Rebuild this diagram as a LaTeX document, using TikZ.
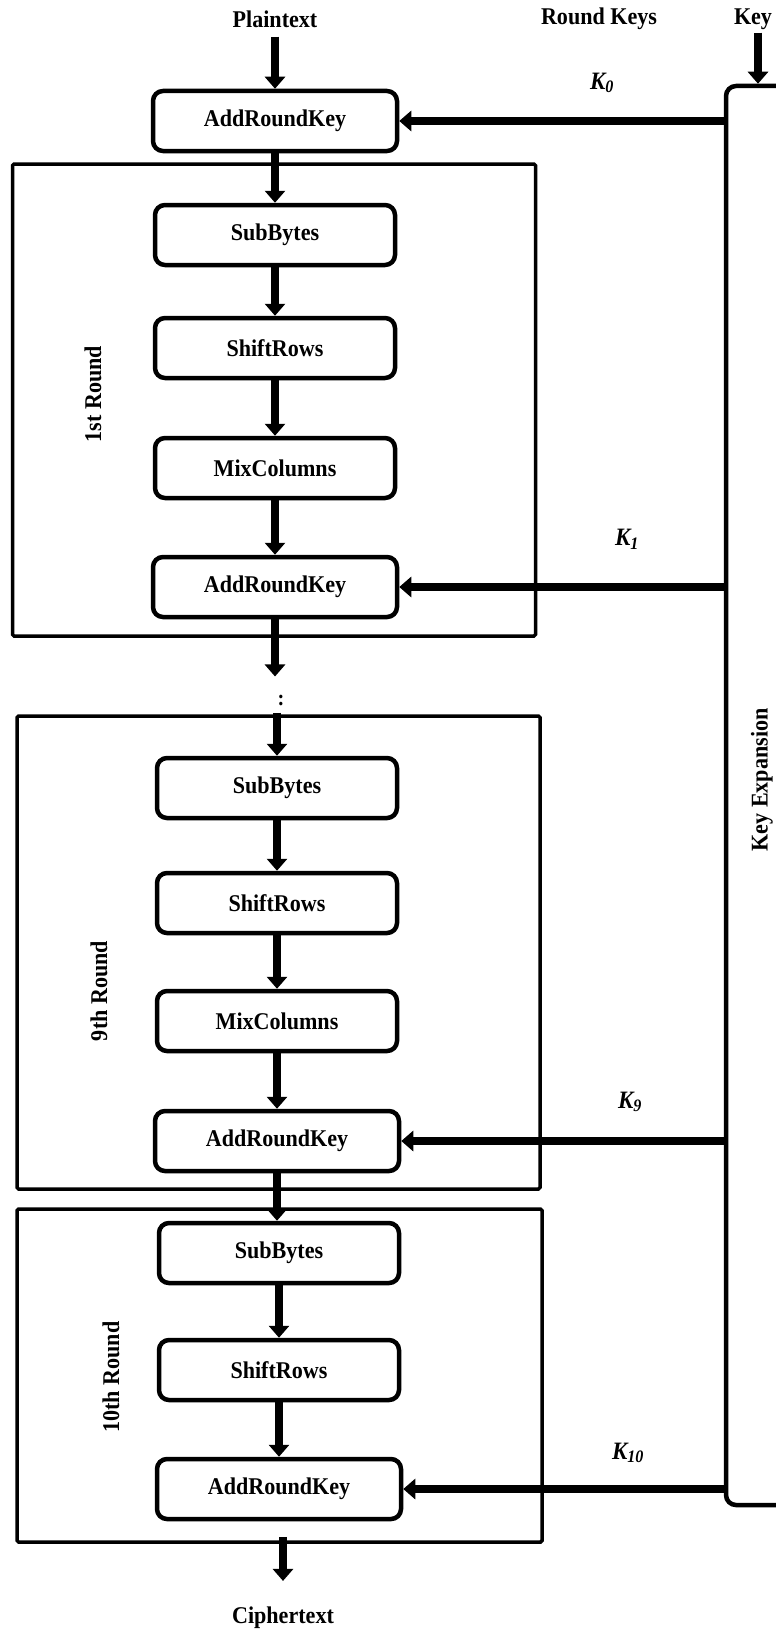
\documentclass[tikz,border=0pt]{standalone}
\usepackage{fontspec}
\setmainfont{Liberation Serif}[FakeStretch=0.92]
\usetikzlibrary{arrows.meta, positioning}

\begin{document}
\begin{tikzpicture}[x=1pt, y=-1pt,
    stage/.style = {rectangle, draw=black, line width=4.5pt, rounded corners=10pt, minimum width=240pt, minimum height=60pt, inner sep=0pt, font=\fontsize{24}{26}\selectfont\bfseries},
    roundframe/.style = {rectangle, draw=black, line width=3.5pt, rounded corners=1.5pt, inner sep=0pt},
    lbl/.style = {inner sep=0pt, font=\fontsize{24}{26}\selectfont\bfseries},
    klabel/.style = {inner sep=0pt, font=\fontsize{25}{26}\selectfont\bfseries\itshape},
    arrow/.style = {draw=black, line width=8.5pt, -{Triangle[width=20pt, length=12pt]}}
]
\useasboundingbox (0,0) rectangle (776,1635);

% Headings
\node (plain) [lbl] at (275,19) {Plaintext};
\node (rkeys) [lbl] at (599,19) {Round Keys};
\node (key) [lbl] at (753,19) {Key};

% Key schedule
\node (kexp) [rectangle, draw=black, line width=4.5pt, rounded corners=10pt, minimum width=80pt, minimum height=1419pt] at (766,795.5) {};
\node (kexplbl) [lbl, rotate=90] at (762,780) {Key Expansion};

% Initial key addition
\node (ark0) [stage, minimum width=244pt] at (275,121) {AddRoundKey};

% 1st Round
\node (f1) [roundframe, minimum width=523pt, minimum height=472pt] at (274,400) {};
\node (r1lbl) [lbl, rotate=90] at (93,394) {1st Round};
\node (sb1) [stage] at (275,235) {SubBytes};
\node (sr1) [stage] at (275,348) {ShiftRows};
\node (mc1) [stage] at (275,468) {MixColumns};
\node (ark1) [stage, minimum width=244pt] at (275,587) {AddRoundKey};

\node (dots) [inner sep=0pt, font=\fontsize{22}{22}\selectfont\bfseries] at (281,700) {:};

% 9th Round
\node (f9) [roundframe, minimum width=523pt, minimum height=473pt] at (278.5,952.5) {};
\node (r9lbl) [lbl, rotate=90] at (99,991) {9th Round};
\node (sb9) [stage] at (277,788) {SubBytes};
\node (sr9) [stage] at (277,903) {ShiftRows};
\node (mc9) [stage] at (277,1021) {MixColumns};
\node (ark9) [stage, minimum width=244pt] at (277,1141) {AddRoundKey};

% 10th Round
\node (f10) [roundframe, minimum width=525pt, minimum height=333pt] at (279.5,1375.5) {};
\node (r10lbl) [lbl, rotate=90] at (111,1377) {10th Round};
\node (sb10) [stage] at (279,1253) {SubBytes};
\node (sr10) [stage] at (279,1370) {ShiftRows};
\node (ark10) [stage, minimum width=244pt] at (279,1489) {AddRoundKey};

\node (cipher) [lbl] at (283,1618) {Ciphertext};

% Round key labels
\node (k0) [klabel] at (602,83) {K\textsubscript{0}};
\node (k1) [klabel] at (627,539) {K\textsubscript{1}};
\node (k9) [klabel] at (630,1102) {K\textsubscript{9}};
\node (k10) [klabel] at (628,1453) {K\textsubscript{10}};

% Data path
\draw [arrow, shorten <=9pt] (plain.south -| ark0.north) -- (ark0.north);
\draw [arrow] (ark0) -- (sb1);
\draw [arrow] (sb1) -- (sr1);
\draw [arrow] (sr1) -- (mc1);
\draw [arrow] (mc1) -- (ark1);
\draw [arrow, shorten >=18pt] (ark1.south) -- (ark1.south |- dots.north);
\draw [arrow, shorten <=7pt] (sb9.north |- dots.south) -- (sb9.north);
\draw [arrow] (sb9) -- (sr9);
\draw [arrow] (sr9) -- (mc9);
\draw [arrow] (mc9) -- (ark9);
\draw [arrow] (ark9.south) -- (ark9.south |- sb10.north);
\draw [arrow] (sb10) -- (sr10);
\draw [arrow] (sr10) -- (ark10);
\draw [arrow] ([yshift=7pt]f10.south -| cipher.north) -- ([yshift=26pt]cipher.north);

% Key path
\draw [arrow, shorten <=3pt] ([xshift=5pt]key.south) -- ([xshift=5pt]key.south |- kexp.north);
\draw [arrow] (kexp.west |- ark0) -- (ark0.east);
\draw [arrow] (kexp.west |- ark1) -- (ark1.east);
\draw [arrow] (kexp.west |- ark9) -- (ark9.east);
\draw [arrow] (kexp.west |- ark10) -- (ark10.east);

\end{tikzpicture}
\end{document}
